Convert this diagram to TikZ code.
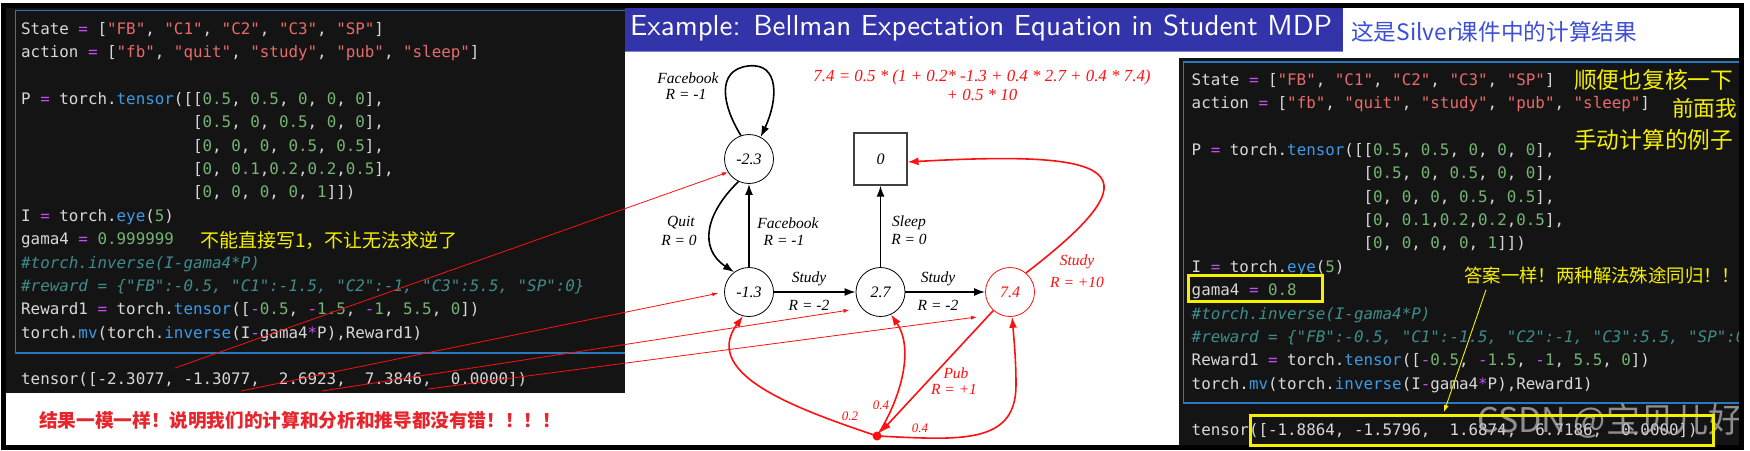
\documentclass[tikz,border=0pt]{standalone}
\usepackage{fontspec}
\usepackage{graphicx}
\usetikzlibrary{arrows.meta,calc}
\newfontfamily\codefont{DejaVu Sans Mono}
\newfontfamily\tmsfont{Liberation Serif}
\newfontfamily\cjkfont{Noto Sans CJK SC}
\definecolor{codebg}{HTML}{141414}
\definecolor{codefg}{HTML}{D8D8D8}
\definecolor{codeop}{HTML}{C050F0}
\definecolor{codestr}{HTML}{E86A6A}
\definecolor{codenum}{HTML}{74B474}
\definecolor{codefn}{HTML}{3C9BE6}
\definecolor{codecm}{HTML}{3F8C8C}
\definecolor{codeborder}{HTML}{2A78C0}
\definecolor{titleblue}{HTML}{3333AA}
\definecolor{titleline}{HTML}{8080D0}
\definecolor{noteblue}{HTML}{3D4FD6}
\definecolor{noteyellow}{HTML}{F5F000}
\definecolor{mdpred}{HTML}{FF1010}
\definecolor{notered}{HTML}{E6262C}
\newcommand\kop[1]{\textcolor{codeop}{#1}}
\newcommand\kstr[1]{\textcolor{codestr}{#1}}
\newcommand\knum[1]{\textcolor{codenum}{#1}}
\newcommand\kfn[1]{\textcolor{codefn}{#1}}
\newcommand\kcm[1]{\textcolor{codecm}{\itshape #1}}
\tikzset{
  codeline/.style={anchor=base west, inner sep=0pt, text=codefg, font=\codefont\fontsize{15.86}{19}\selectfont},
  state/.style={circle, draw=black, line width=0.8pt, minimum size=49pt, inner sep=0pt, font=\tmsfont\itshape\fontsize{16}{18}\selectfont},
  termbox/.style={rectangle, draw=black!75, line width=1.2pt, minimum width=53pt, minimum height=52pt, inner sep=0pt, font=\tmsfont\itshape\fontsize{16}{18}\selectfont},
  lab/.style={inner sep=0pt, font=\tmsfont\itshape\fontsize{15.5}{17}\selectfont},
  rlab/.style={lab, text=mdpred},
  plab/.style={inner sep=0pt, text=mdpred, font=\tmsfont\itshape\fontsize{13}{15}\selectfont},
  eqtext/.style={inner sep=0pt, text=mdpred, font=\tmsfont\itshape\fontsize{16.9}{19}\selectfont},
  blk/.style={draw=black, line width=1.6pt, -{Latex[length=11pt,width=8pt]}},
  redarr/.style={draw=mdpred, line width=1.6pt, -{Latex[length=11pt,width=8pt]}},
  pointer/.style={draw=mdpred, line width=0.8pt, -{Latex[length=6pt,width=4pt]}},
  ynote/.style={anchor=west, inner sep=0pt, text=noteyellow, font=\cjkfont},
}
\begin{document}
\begin{tikzpicture}[x=1pt,y=-1pt]
\useasboundingbox (0,0) rectangle (1750,450);
\fill[white] (0,0) rectangle (1750,450);
% panels
\fill[codebg] (6,7) rectangle (625,393);
\fill[codebg] (1179,58) rectangle (1742,447);
\draw[codeborder, line width=1.2pt] (625,10.5) -- (15.5,10.5) -- (15.5,353) -- (625,353);
\draw[codeborder, line width=1.2pt] (1742,62) -- (1183.5,62) -- (1183.5,403) -- (1742,403);

% left code
\node[codeline] (L1) at (21,34) {State \kop{=} [\kstr{"FB"}, \kstr{"C1"}, \kstr{"C2"}, \kstr{"C3"}, \kstr{"SP"}]};
\node[codeline] (L2) at (21,57.4) {action \kop{=} [\kstr{"fb"}, \kstr{"quit"}, \kstr{"study"}, \kstr{"pub"}, \kstr{"sleep"}]};
\node[codeline] (L4) at (21,104.2) {P \kop{=} torch.\kfn{tensor}([[\knum{0.5}, \knum{0.5}, \knum{0}, \knum{0}, \knum{0}],};
\node[codeline] (L5) at (21,127.6) {\hphantom{P = torch.tensor([}[\knum{0.5}, \knum{0}, \knum{0.5}, \knum{0}, \knum{0}],};
\node[codeline] (L6) at (21,151) {\hphantom{P = torch.tensor([}[\knum{0}, \knum{0}, \knum{0}, \knum{0.5}, \knum{0.5}],};
\node[codeline] (L7) at (21,174.4) {\hphantom{P = torch.tensor([}[\knum{0}, \knum{0.1},\knum{0.2},\knum{0.2},\knum{0.5}],};
\node[codeline] (L8) at (21,197.8) {\hphantom{P = torch.tensor([}[\knum{0}, \knum{0}, \knum{0}, \knum{0}, \knum{1}]])};
\node[codeline] (L9) at (21,221.2) {I \kop{=} torch.\kfn{eye}(\knum{5})};
\node[codeline] (L10) at (21,244.6) {gama4 \kop{=} \knum{0.999999}};
\node[codeline] (L11) at (21,268) {\kcm{\#torch.inverse(I-gama4*P)}};
\node[codeline] (L12) at (21,291.4) {\kcm{\#reward = \{"FB":-0.5, "C1":-1.5, "C2":-1, "C3":5.5, "SP":0\}}};
\node[codeline] (L13) at (21,314.8) {Reward1 \kop{=} torch.\kfn{tensor}([\kop{-}\knum{0.5}, \kop{-}\knum{1.5}, \kop{-}\knum{1}, \knum{5.5}, \knum{0}])};
\node[codeline] (L14) at (21,338.2) {torch.\kfn{mv}(torch.\kfn{inverse}(I\kop{-}gama4\kop{*}P),Reward1)};
\node[codeline] (LT) at (21,384) {tensor([-2.3077, -1.3077,~ 2.6923,~ 7.3846,~ 0.0000])};

% right code
\begin{scope}
\clip (1179,58) rectangle (1742,447);
\node[codeline] (R1) at (1191.5,85) {State \kop{=} [\kstr{"FB"}, \kstr{"C1"}, \kstr{"C2"}, \kstr{"C3"}, \kstr{"SP"}]};
\node[codeline] (R2) at (1191.5,108.4) {action \kop{=} [\kstr{"fb"}, \kstr{"quit"}, \kstr{"study"}, \kstr{"pub"}, \kstr{"sleep"}]};
\node[codeline] (R4) at (1191.5,155.2) {P \kop{=} torch.\kfn{tensor}([[\knum{0.5}, \knum{0.5}, \knum{0}, \knum{0}, \knum{0}],};
\node[codeline] (R5) at (1191.5,178.6) {\hphantom{P = torch.tensor([}[\knum{0.5}, \knum{0}, \knum{0.5}, \knum{0}, \knum{0}],};
\node[codeline] (R6) at (1191.5,202) {\hphantom{P = torch.tensor([}[\knum{0}, \knum{0}, \knum{0}, \knum{0.5}, \knum{0.5}],};
\node[codeline] (R7) at (1191.5,225.4) {\hphantom{P = torch.tensor([}[\knum{0}, \knum{0.1},\knum{0.2},\knum{0.2},\knum{0.5}],};
\node[codeline] (R8) at (1191.5,248.8) {\hphantom{P = torch.tensor([}[\knum{0}, \knum{0}, \knum{0}, \knum{0}, \knum{1}]])};
\node[codeline] (R9) at (1191.5,272.2) {I \kop{=} torch.\kfn{eye}(\knum{5})};
\node[codeline] (R10) at (1191.5,295.6) {gama4 \kop{=} \knum{0.8}};
\node[codeline] (R11) at (1191.5,319) {\kcm{\#torch.inverse(I-gama4*P)}};
\node[codeline] (R12) at (1191.5,342.4) {\kcm{\#reward = \{"FB":-0.5, "C1":-1.5, "C2":-1, "C3":5.5, "SP":0\}}};
\node[codeline] (R13) at (1191.5,365.8) {Reward1 \kop{=} torch.\kfn{tensor}([\kop{-}\knum{0.5}, \kop{-}\knum{1.5}, \kop{-}\knum{1}, \knum{5.5}, \knum{0}])};
\node[codeline] (R14) at (1191.5,389.2) {torch.\kfn{mv}(torch.\kfn{inverse}(I\kop{-}gama4\kop{*}P),Reward1)};
\node[codeline] (RT) at (1191.5,435) {tensor([-1.8864, -1.5796,~ 1.6874,~ 6.7186,~ 0.0000])};
\node[anchor=west, inner sep=0pt, text=white!72!black, opacity=0.75, font=\cjkfont\fontsize{34}{36}\selectfont] (wm) at (1477,421) {CSDN @宝贝儿好};
\end{scope}

% title
\fill[titleblue] (625,7) rectangle (1343,51);
\draw[titleline, line width=1pt] (625,51) -- (1343,51);
\node[anchor=west, inner sep=0pt, text=white] (title) at (630,28) {\resizebox{702pt}{!}{\sffamily Example: Bellman Expectation Equation in Student MDP}};
\node[anchor=west, inner sep=0pt, text=noteblue] (silver) at (1351,32) {\resizebox{286pt}{!}{\cjkfont 这是Silver课件中的计算结果}};

% frame
\draw[black, line width=5pt] (3,5) rectangle (1741,447.5);

% MDP diagram
\node[state] (n23) at (749,159) {-2.3};
\node[termbox] (sq) at (880.5,159) {0};
\node[state] (n13) at (749,292) {-1.3};
\node[state] (n27) at (880.5,292) {2.7};
\node[state, draw=mdpred, text=mdpred] (n74) at (1010,292) {7.4};
\node[circle, fill=mdpred, minimum size=9pt, inner sep=0pt] (dot) at (877,436) {};

\node[lab] (fbA) at (688,78) {Facebook};
\node[lab] (fbAr) at (686,94) {R = -1};
\node[lab] (quit) at (681,223) {Quit};
\node[lab] (quitr) at (679,240) {R = 0};
\node[lab] (fbB) at (788,223) {Facebook};
\node[lab] (fbBr) at (784,240) {R = -1};
\node[lab] (slp) at (909,223) {Sleep};
\node[lab] (slpr) at (909,239) {R = 0};
\node[lab] (st1) at (809,279) {Study};
\node[lab] (st1r) at (809,305) {R = -2};
\node[lab] (st2) at (938,279) {Study};
\node[lab] (st2r) at (938,305) {R = -2};
\node[rlab] (st3) at (1077,262) {Study};
\node[rlab] (st3r) at (1077,282) {R = +10};
\node[rlab] (pub) at (956,373) {Pub};
\node[rlab] (pubr) at (954,389) {R = +1};
\node[plab] (p02) at (850,416) {0.2};
\node[plab] (p04a) at (881,405) {0.4};
\node[plab] (p04b) at (920,428) {0.4};
\node[eqtext] (eq1) at (982,77) {7.4 = 0.5 * (1 + 0.2* -1.3 + 0.4 * 2.7 + 0.4 * 7.4)};
\node[eqtext] (eq2) at (982,95) {+ 0.5 * 10};

\draw[blk] (n23.109) .. controls (722,105) and (716,70) .. (748,66) .. controls (780,62) and (778,100) .. (n23.62);
\draw[blk] (n23.245) .. controls (706,213) and (698,248) .. (n13.127);
\draw[blk] (n13) -- (n23);
\draw[blk] (n27) -- (sq);
\draw[blk] (n13) -- (n27);
\draw[blk] (n27) -- (n74);

\draw[redarr] (n74.50) .. controls (1160,170) and (1120,150) .. ($(sq.east)+(0,3)$);
\draw[redarr] (n74.228) -- (dot);
\draw[redarr] (dot.center) .. controls (800,410) and (700,375) .. (n13.256);
\draw[redarr] (dot.center) .. controls (900,400) and (915,350) .. (n27.295);
\draw[redarr] (dot.center) .. controls (960,440) and (1016,445) .. (1016,385) .. controls (1016,360) and (1014,340) .. (n74.275);

% pointers from results
\coordinate (tA) at (175,368);
\coordinate (tB) at (241,391);
\coordinate (tC) at (322,391);
\coordinate (tD) at (428,389);
\draw[pointer] (tA) -- (n23.212);
\draw[pointer, shorten >=6pt] (tB) -- (n13.west);
\draw[pointer] (tC) -- ($(n27.center)+(-31,18)$);
\draw[pointer] (tD) -- ($(n74.center)+(-33,25)$);

% annotations
\node[ynote] (noteL) at (200,240) {\resizebox{257pt}{!}{不能直接写1，不让无法求逆了}};
\node[anchor=west, inner sep=0pt, text=notered, font=\cjkfont\bfseries] (noteB) at (39,420) {\resizebox{522pt}{!}{结果一模一样！说明我们的计算和分析和推导都没有错！！！！}};
\node[ynote] (noteR1) at (1574,80) {\resizebox{159pt}{!}{顺便也复核一下}};
\node[ynote] (noteR2) at (1672,108) {\resizebox{65pt}{!}{前面我}};
\node[ynote] (noteR3) at (1574,140) {\resizebox{159pt}{!}{手动计算的例子}};
\node[ynote] (ans) at (1464,275) {\resizebox{276pt}{!}{答案一样！两种解法殊途同归！！}};
\draw[noteyellow, line width=3pt] (1188.5,275.5) rectangle (1322.5,301);
\draw[noteyellow, line width=3pt] (1250,415) rectangle (1713,445);
\coordinate (yEnd) at (1444,412);
\draw[noteyellow, line width=0.9pt, -{Latex[length=7pt,width=5pt]}] ($(ans.south west)+(22,6)$) -- (yEnd);
\end{tikzpicture}
\end{document}
